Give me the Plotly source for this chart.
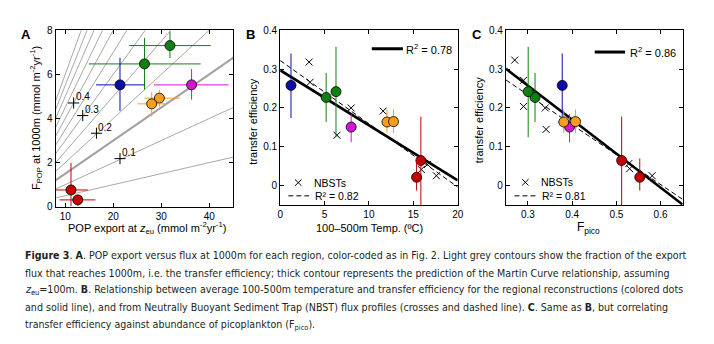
import plotly.graph_objects as go

W, H = 714, 344

# ---------------- data ----------------
region_colors = ["#118011", "#118011", "#0c0ca8", "#d414d4", "#f99d1c", "#f99d1c", "#c40000", "#c40000"]

# Panel A: POP export at z_eu vs F_POP at 1000 m
a_export = [31.8, 26.5, 21.4, 36.3, 29.6, 28.0, 11.2, 12.6]
a_export_lo = [23.3, 14.9, 16.4, 28.5, 26.5, 25.1, 8.0, 8.8]
a_export_hi = [40.3, 38.2, 26.5, 44.0, 33.9, 31.1, 14.7, 16.3]
a_f1000 = [7.30, 6.47, 5.52, 5.52, 4.92, 4.66, 0.76, 0.31]
a_f1000_lo = [6.73, 5.30, 4.34, 4.85, 4.53, 4.09, 0.02, 0.05]
a_f1000_hi = [7.94, 7.65, 6.75, 6.24, 5.30, 5.20, 1.98, 0.55]

contour_levels = [0.05, 0.1, 0.2, 0.25, 0.3, 0.35, 0.4, 0.45, 0.5, 0.55, 0.6]
martin_level = 0.15
contour_x = [0, 50]
label_levels = ["0.1", "0.2", "0.3", "0.4"]
label_x = [21.4, 16.5, 13.64, 11.75]
label_y = [2.18, 3.33, 4.13, 4.70]

# Panels B & C: transfer efficiency
te = [0.227, 0.242, 0.258, 0.151, 0.164, 0.165, 0.065, 0.022]
te_hi = [0.290, 0.357, 0.340, 0.184, 0.196, 0.196, 0.178, 0.070]
te_lo = [0.164, 0.125, 0.174, 0.112, 0.136, 0.136, -0.10, -0.012]
b_temp = [5.18, 6.29, 1.22, 8.0, 12.03, 12.77, 15.85, 15.37]
c_fpico = [0.316, 0.3005, 0.3775, 0.394, 0.381, 0.4076, 0.512, 0.553]

nbst_temp = [3.26, 3.37, 8.0, 6.4, 11.6, 15.9, 16.6, 17.6]
nbst_te_b = [0.318, 0.266, 0.200, 0.130, 0.192, 0.042, 0.055, 0.026]
nbst_fpico = [0.27, 0.29, 0.29, 0.339, 0.341, 0.528, 0.530, 0.581]
nbst_te_c = [0.323, 0.271, 0.204, 0.200, 0.145, 0.057, 0.044, 0.026]

# fits: (intercept, slope)
b_fit_regional = (0.297, -0.01415)
b_fit_nbst = (0.322, -0.01625)
c_fit_regional = (0.519, -0.8725)
c_fit_nbst = (0.464, -0.7675)
b_r2 = ["0.78", "0.82"]
c_r2 = ["0.86", "0.81"]

# ---------------- helpers ----------------
def px(x):
    return x / W

def py(y):
    return 1 - y / H

FONT = "Liberation Sans, Arial, Helvetica, sans-serif"

fig = go.Figure()

# ----- Panel A -----
for lv in contour_levels:
    fig.add_trace(go.Scatter(x=contour_x, y=[lv * v for v in contour_x], mode="lines",
                             line=dict(color="#a8a8a8", width=1), xaxis="x", yaxis="y",
                             showlegend=False, hoverinfo="skip"))
fig.add_trace(go.Scatter(x=contour_x, y=[martin_level * v for v in contour_x], mode="lines",
                         line=dict(color="#a0a0a0", width=2), xaxis="x", yaxis="y",
                         showlegend=False, hoverinfo="skip"))
fig.add_trace(go.Scatter(x=label_x, y=label_y, mode="markers",
                         marker=dict(symbol="cross-thin", size=8, line=dict(color="black", width=1)),
                         xaxis="x", yaxis="y", showlegend=False))
for i in range(len(a_export)):
    fig.add_trace(go.Scatter(
        x=[a_export[i]], y=[a_f1000[i]], mode="markers", xaxis="x", yaxis="y", showlegend=False,
        marker=dict(size=10, color=region_colors[i], line=dict(color="black", width=0.8)),
        error_x=dict(type="data", symmetric=False, array=[a_export_hi[i] - a_export[i]],
                     arrayminus=[a_export[i] - a_export_lo[i]], color=region_colors[i], thickness=1, width=0),
        error_y=dict(type="data", symmetric=False, array=[a_f1000_hi[i] - a_f1000[i]],
                     arrayminus=[a_f1000[i] - a_f1000_lo[i]], color=region_colors[i], thickness=1, width=0),
    ))

# ----- Panels B and C -----
def add_te_panel(xa, ya, xvals, nbst_x, nbst_y, fit_r, fit_n, xr):
    fig.add_trace(go.Scatter(x=nbst_x, y=nbst_y, mode="markers", xaxis=xa, yaxis=ya, showlegend=False,
                             marker=dict(symbol="x-thin", size=7, line=dict(color="black", width=1))))
    fig.add_trace(go.Scatter(x=xr, y=[fit_n[0] + fit_n[1] * v for v in xr], mode="lines", xaxis=xa, yaxis=ya,
                             showlegend=False, line=dict(color="black", width=1, dash="5px,3px")))
    fig.add_trace(go.Scatter(x=xr, y=[fit_r[0] + fit_r[1] * v for v in xr], mode="lines", xaxis=xa, yaxis=ya,
                             showlegend=False, line=dict(color="black", width=2.6)))
    for i in range(len(xvals)):
        fig.add_trace(go.Scatter(
            x=[xvals[i]], y=[te[i]], mode="markers", xaxis=xa, yaxis=ya, showlegend=False,
            marker=dict(size=10, color=region_colors[i], line=dict(color="black", width=0.8)),
            error_y=dict(type="data", symmetric=False, array=[te_hi[i] - te[i]],
                         arrayminus=[te[i] - te_lo[i]], color=region_colors[i], thickness=1, width=0),
        ))

add_te_panel("x2", "y2", b_temp, nbst_temp, nbst_te_b, b_fit_regional, b_fit_nbst, [0, 20])
add_te_panel("x3", "y3", c_fpico, nbst_fpico, nbst_te_c, c_fit_regional, c_fit_nbst, [0.25, 0.65])

axis_common = dict(showgrid=False, zeroline=False, showline=True, linecolor="black", linewidth=1,
                   mirror="ticks", ticks="inside", ticklen=4, tickcolor="black", tickwidth=1,
                   tickfont=dict(family=FONT, size=10, color="black"))

fig.update_layout(
    width=W, height=H, margin=dict(l=0, r=0, t=0, b=0),
    paper_bgcolor="white", plot_bgcolor="white", showlegend=False,
    xaxis=dict(domain=[px(53.3), px(233.3)], range=[8, 45], tickvals=[10, 20, 30, 40], anchor="y", **axis_common),
    yaxis=dict(domain=[py(208), py(25)], range=[0, 8], tickvals=[0, 2, 4, 6, 8], anchor="x", **axis_common),
    xaxis2=dict(domain=[px(280.7), px(460.5)], range=[0, 20], tickvals=[0, 5, 10, 15, 20], anchor="y2", **axis_common),
    yaxis2=dict(domain=[py(206.5), py(25)], range=[-0.05, 0.4], tickvals=[0, 0.1, 0.2, 0.3, 0.4], anchor="x2", **axis_common),
    xaxis3=dict(domain=[px(509.3), px(688.3)], range=[0.25, 0.65], tickvals=[0.3, 0.4, 0.5, 0.6], anchor="y3", **axis_common),
    yaxis3=dict(domain=[py(206.5), py(25)], range=[-0.05, 0.4], tickvals=[0, 0.1, 0.2, 0.3, 0.4], anchor="x3", **axis_common),
)

ann = []
def text(x, y, s, size=11, xanchor="center", yanchor="middle", angle=0, bold=False, color="black", family=FONT, **kw):
    ann.append(dict(x=px(x), y=py(y), xref="paper", yref="paper", text=s, showarrow=False,
                    xanchor=xanchor, yanchor=yanchor, textangle=angle,
                    font=dict(family=family, size=size, color=color, weight="bold" if bold else "normal"), **kw))

# contour labels (data coords)
for lab, lx, ly in zip(label_levels, label_x, label_y):
    ann.append(dict(x=lx, y=ly, xref="x", yref="y", text=lab, showarrow=False, xanchor="left", yanchor="middle",
                    yshift=6, xshift=0, font=dict(family=FONT, size=10, color="black")))

# panel letters
text(23.5, 30, "A", size=13, bold=True)
text(251, 30, "B", size=13, bold=True)
text(480, 30, "C", size=13, bold=True)

# axis titles
text(33.5, 116, "F<sub>POP</sub> at 1000m (mmol m<sup>-2</sup>yr<sup>-1</sup>)", angle=-90)
text(146, 230, "POP export at <i>z</i><sub>eu</sub> (mmol m<sup>-2</sup>yr<sup>-1</sup>)")
text(253, 119, "transfer efficiency", angle=-90)
text(371, 230, "100\u2013500m Temp. (\u00baC)")
text(481.5, 118, "transfer efficiency", angle=-90)
text(593, 230, "F<sub>pico</sub>", size=12)

shapes = []
def hline(x0, x1, y, width=1, dash=None):
    shapes.append(dict(type="line", xref="paper", yref="paper", x0=px(x0), x1=px(x1), y0=py(y), y1=py(y),
                       line=dict(color="black", width=width, dash=dash)))
def cross(cx, cy, r=3.3):
    shapes.append(dict(type="line", xref="paper", yref="paper", x0=px(cx - r), x1=px(cx + r), y0=py(cy - r), y1=py(cy + r),
                       line=dict(color="black", width=1)))
    shapes.append(dict(type="line", xref="paper", yref="paper", x0=px(cx - r), x1=px(cx + r), y0=py(cy + r), y1=py(cy - r),
                       line=dict(color="black", width=1)))

# legends B
hline(373.5, 405, 44.3, width=3)
text(406.5, 44.3, "R<sup>2</sup> = " + b_r2[0], xanchor="left")
cross(299, 183)
text(312.5, 183, "NBSTs", size=10.5, xanchor="left")
hline(289, 310, 196.7, dash="5px,3px")
text(313.5, 196.7, "R\u00b2 = " + b_r2[1], size=10.5, xanchor="left")
# legends C
hline(599.3, 630, 47.7, width=3)
text(633, 47.7, "R<sup>2</sup> = " + c_r2[0], xanchor="left")
cross(529, 182.7)
text(542.5, 182.7, "NBSTs", size=10.5, xanchor="left")
hline(518, 540, 196.7, dash="5px,3px")
text(543.5, 196.7, "R\u00b2 = " + c_r2[1], size=10.5, xanchor="left")

# caption
CAP = "Liberation Sans Narrow, Arial Narrow, DejaVu Sans Condensed, sans-serif"
cap_lines = [
    "<b>Figure 3</b>. <b>A</b>. POP export versus flux at 1000m for each region, color-coded as in Fig. 2. Light grey contours show the fraction of the export",
    "flux that reaches 1000m, i.e. the transfer efficiency; thick contour represents the prediction of the Martin Curve relationship, assuming",
    "<i>z</i><sub>eu</sub>=100m. <b>B</b>. Relationship between average 100-500m temperature and transfer efficiency for the regional reconstructions (colored dots",
    "and solid line), and from Neutrally Buoyant Sediment Trap (NBST) flux profiles (crosses and dashed line). <b>C</b>. Same as <b>B</b>, but correlating",
    "transfer efficiency against abundance of picoplankton (F<sub>pico</sub>).",
]
cap_y = [258.3, 276.2, 294.3, 312.3, 330.5]
for s, yy in zip(cap_lines, cap_y):
    text(20, yy, s, size=10.6, xanchor="left", color="#231f20", family=CAP)

fig.update_layout(annotations=ann, shapes=shapes)
fig.write_html("out.html")
